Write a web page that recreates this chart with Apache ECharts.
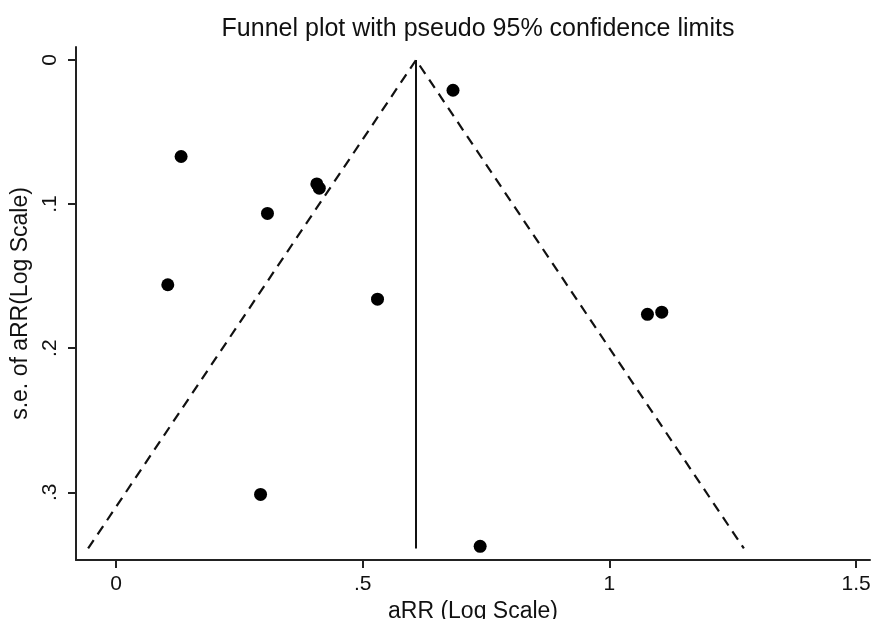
<!DOCTYPE html>
<html>
<head>
<meta charset="utf-8">
<title>Funnel plot</title>
<script src="https://cdn.jsdelivr.net/npm/echarts@6/dist/echarts.min.js"></script>
<style>
  html, body { margin: 0; padding: 0; background: #fff; }
  #chart { width: 873px; height: 619px; }
</style>
</head>
<body>
<div id="chart"></div>
<script>
// study estimates: log aRR and its standard error
const logRR = [0.132, 0.683, 0.407, 0.412, 0.307, 0.105, 0.530, 1.077, 1.106, 0.293, 0.738]
const seLogRR = [0.067, 0.021, 0.086, 0.089, 0.1065, 0.156, 0.166, 0.1765, 0.175, 0.3015, 0.3375]

// pooled estimate and the largest s.e. used for the pseudo 95% limits
const pooled = 0.608
const seMax = 0.339
const z95 = 1.96

const xTicks = [0, 0.5, 1, 1.5]
const yTicks = [0, 0.1, 0.2, 0.3]

const fmt = v => {
  if (v === 0 || v === 1) return String(v)
  return String(v).replace(/^0\./, '.')
}

const funnel = [
  [pooled - z95 * seMax, seMax],
  [pooled, 0],
  [pooled + z95 * seMax, seMax]
]
const centerLine = [[pooled, 0], [pooled, seMax]]

const chart = echarts.init(document.getElementById('chart'))

const font = 'Liberation Sans, Arial, Helvetica, sans-serif'
const axisColor = '#222'

chart.setOption({
  animation: false,
  title: {
    text: 'Funnel plot with pseudo 95% confidence limits',
    left: 473,
    top: 12,
    textAlign: 'center',
    textStyle: { fontFamily: font, fontSize: 25, fontWeight: 'normal', color: '#111' }
  },
  grid: { left: 76, right: 3, top: 47, bottom: 59, containLabel: false, outerBoundsMode: 'none' },
  xAxis: {
    type: 'value',
    min: -0.081,
    max: 1.528,
    name: 'aRR (Log Scale)',
    nameLocation: 'middle',
    nameGap: 37,
    nameTextStyle: { fontFamily: font, fontSize: 23, color: '#111' },
    axisLine: { onZero: false, lineStyle: { color: axisColor, width: 2 } },
    axisTick: { customValues: xTicks, length: 8, lineStyle: { color: axisColor, width: 2 } },
    axisLabel: { customValues: xTicks, formatter: fmt, fontFamily: font, fontSize: 21, color: '#111', margin: 14 },
    splitLine: { show: false }
  },
  yAxis: {
    type: 'value',
    inverse: true,
    min: -0.009,
    max: 0.347,
    name: 's.e. of aRR(Log Scale)',
    nameLocation: 'middle',
    nameGap: 37,
    nameRotate: 90,
    nameTextStyle: { fontFamily: font, fontSize: 23, color: '#111' },
    axisLine: { show: true, onZero: false, lineStyle: { color: axisColor, width: 2 } },
    axisTick: { show: true, customValues: yTicks, length: 8, lineStyle: { color: axisColor, width: 2 } },
    axisLabel: { customValues: yTicks, formatter: fmt, rotate: 90, fontFamily: font, fontSize: 21, color: '#111', margin: 15 },
    splitLine: { show: false }
  },
  series: [
    {
      type: 'line',
      data: funnel,
      symbol: 'none',
      lineStyle: { color: '#111', width: 2.2, type: [10, 7] },
      z: 2
    },
    {
      type: 'line',
      data: centerLine,
      symbol: 'none',
      lineStyle: { color: '#111', width: 2 },
      z: 2
    },
    {
      type: 'scatter',
      data: logRR.map((x, i) => [x, seLogRR[i]]),
      symbol: 'circle',
      symbolSize: 13,
      itemStyle: { color: '#000', opacity: 1 },
      z: 3
    }
  ]
})
</script>
</body>
</html>
